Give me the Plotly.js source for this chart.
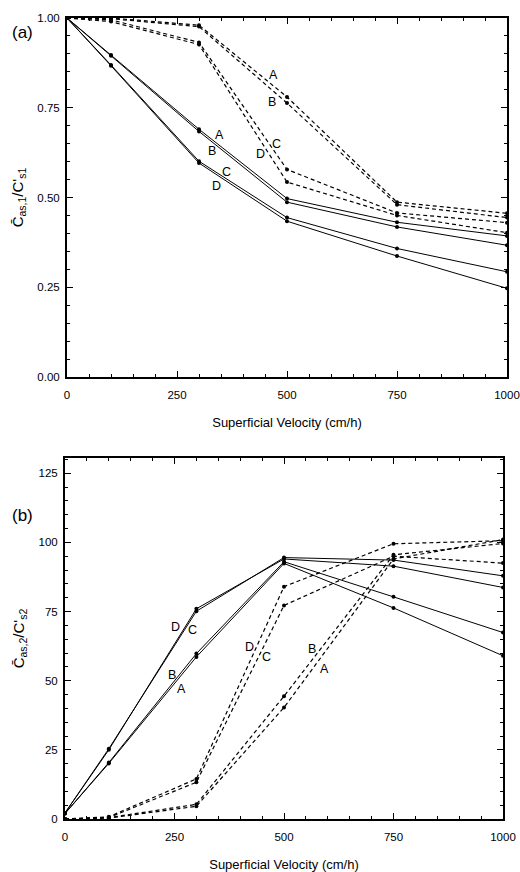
<!DOCTYPE html>
<html>
<head>
<meta charset="utf-8">
<script src="https://cdn.plot.ly/plotly-3.0.1.min.js"></script>
<style>html,body{margin:0;padding:0;background:#fff;}#chart{width:520px;height:872px;}</style>
</head>
<body>
<div id="chart"></div>
<script>
// Superficial velocity (cm/h)
const velocity = [0, 100, 300, 500, 750, 1000];

// Panel (a): C̄as,1 / C's1
const aSolidA = [1.00, 0.897, 0.690, 0.497, 0.431, 0.393];
const aSolidB = [1.00, 0.895, 0.684, 0.487, 0.418, 0.367];
const aSolidC = [1.00, 0.869, 0.601, 0.444, 0.358, 0.293];
const aSolidD = [1.00, 0.867, 0.596, 0.434, 0.337, 0.247];
const aDashA = [1.00, 1.00, 0.980, 0.780, 0.487, 0.456];
const aDashB = [1.00, 0.998, 0.976, 0.763, 0.480, 0.444];
const aDashC = [1.00, 0.995, 0.932, 0.578, 0.457, 0.430];
const aDashD = [1.00, 0.990, 0.926, 0.543, 0.450, 0.402];

// Panel (b): C̄as,2 / C's2
const bSolidA = [2.0, 20.1, 58.6, 92.4, 76.3, 59.0];
const bSolidB = [2.0, 20.4, 59.8, 93.0, 80.3, 67.4];
const bSolidC = [2.2, 25.0, 76.0, 94.0, 91.4, 83.7];
const bSolidD = [2.2, 25.4, 75.1, 94.5, 93.6, 87.9];
const bDashA = [0.0, 0.3, 4.6, 40.3, 94.0, 101.0];
const bDashB = [0.0, 0.5, 5.3, 44.4, 95.5, 99.6];
const bDashC = [0.0, 0.8, 14.5, 84.0, 99.5, 100.6];
const bDashD = [0.0, 0.5, 13.3, 77.2, 95.0, 92.5];

// Curve labels
const labelText = ["A", "B", "C", "D", "A", "B", "C", "D"];
const aLabelX = [346, 329, 363, 340, 469, 467, 477, 440];
const aLabelY = [0.675, 0.629, 0.570, 0.533, 0.842, 0.767, 0.650, 0.622];
const bLabelX = [266, 244, 292, 253, 592, 563, 459, 421];
const bLabelY = [46.9, 52.0, 68.3, 69.5, 54.1, 61.3, 58.6, 62.2];

const xTicks = [0, 250, 500, 750, 1000];
const aYTicks = [0, 0.25, 0.5, 0.75, 1.0];
const bYTicks = [0, 25, 50, 75, 100, 125];

function tr(y, xa, ya, dashed) {
  return {
    x: velocity, y: y, xaxis: xa, yaxis: ya, type: 'scatter', mode: 'lines+markers',
    line: {color: '#000', width: dashed ? 1.2 : 1, dash: dashed ? '4px,3px' : 'solid'},
    marker: {color: '#000', size: 4}, showlegend: false, hoverinfo: 'skip'
  };
}
const data = [
  tr(aSolidA, 'x', 'y', false), tr(aSolidB, 'x', 'y', false), tr(aSolidC, 'x', 'y', false), tr(aSolidD, 'x', 'y', false),
  tr(aDashA, 'x', 'y', true), tr(aDashB, 'x', 'y', true), tr(aDashC, 'x', 'y', true), tr(aDashD, 'x', 'y', true),
  tr(bSolidA, 'x2', 'y2', false), tr(bSolidB, 'x2', 'y2', false), tr(bSolidC, 'x2', 'y2', false), tr(bSolidD, 'x2', 'y2', false),
  tr(bDashA, 'x2', 'y2', true), tr(bDashB, 'x2', 'y2', true), tr(bDashC, 'x2', 'y2', true), tr(bDashD, 'x2', 'y2', true)
];

const font = {family: 'Liberation Sans, Arial, sans-serif', color: '#000'};
function xax(domain, anchor, standoff) {
  return {
    domain: domain, anchor: anchor, range: [0, 1000], tickvals: xTicks, ticktext: xTicks.map(String),
    ticks: 'inside', ticklen: 6, tickwidth: 1, tickcolor: '#000', mirror: 'ticks',
    showline: true, linecolor: '#000', linewidth: 2, showgrid: false, zeroline: false,
    ticklabelstandoff: 6,
    minor: {ticks: 'inside', dtick: 50, tick0: 0, ticklen: 3, tickcolor: '#000', showgrid: false},
    tickfont: Object.assign({size: 11.5}, font),
    title: {text: 'Superficial Velocity (cm/h)', font: Object.assign({size: 13}, font), standoff: standoff}
  };
}
function yax(domain, anchor, range, ticks, fmt, minorStep, title) {
  return {
    domain: domain, anchor: anchor, range: range, tickvals: ticks, tickformat: fmt,
    ticks: 'inside', ticklen: 6, tickwidth: 1, tickcolor: '#000', mirror: 'ticks',
    showline: true, linecolor: '#000', linewidth: 2, showgrid: false, zeroline: false,
    ticklabelstandoff: 3,
    minor: {ticks: 'inside', dtick: minorStep, tick0: 0, ticklen: 3, tickcolor: '#000', showgrid: false},
    tickfont: Object.assign({size: 11.5}, font),
    title: {text: title, font: Object.assign({size: 15}, font), standoff: 10}
  };
}

const annotations = [];
labelText.forEach((t, i) => {
  annotations.push({x: aLabelX[i], y: aLabelY[i], xref: 'x', yref: 'y', text: t, showarrow: false,
    font: Object.assign({size: 12.5}, font)});
  annotations.push({x: bLabelX[i], y: bLabelY[i], xref: 'x2', yref: 'y2', text: t, showarrow: false,
    font: Object.assign({size: 12.5}, font)});
});
annotations.push({x: 10 / 520, y: 1 - 32 / 872, xref: 'paper', yref: 'paper', text: '(a)', showarrow: false,
  xanchor: 'left', yanchor: 'middle', font: Object.assign({size: 17}, font)});
annotations.push({x: 10 / 520, y: 1 - 515 / 872, xref: 'paper', yref: 'paper', text: '(b)', showarrow: false,
  xanchor: 'left', yanchor: 'middle', font: Object.assign({size: 17}, font)});

const layout = {
  width: 520, height: 872, margin: {l: 0, r: 0, t: 0, b: 0},
  paper_bgcolor: '#fff', plot_bgcolor: '#fff', showlegend: false,
  xaxis: xax([67 / 520, 507 / 520], 'y', 18),
  yaxis: yax([1 - 377 / 872, 1 - 18 / 872], 'x', [0, 1.0], aYTicks, '.2f', 0.05,
    'C̄<sub>as,1</sub>/C\'<sub>s1</sub>'),
  xaxis2: xax([65 / 520, 503 / 520], 'y2', 18),
  yaxis2: yax([1 - 819 / 872, 1 - 458 / 872], 'x2', [0, 130.5], bYTicks, 'd', 5,
    'C̄<sub>as,2</sub>/C\'<sub>s2</sub>'),
  annotations: annotations
};

Plotly.newPlot('chart', data, layout, {staticPlot: true, displayModeBar: false});
</script>
</body>
</html>
